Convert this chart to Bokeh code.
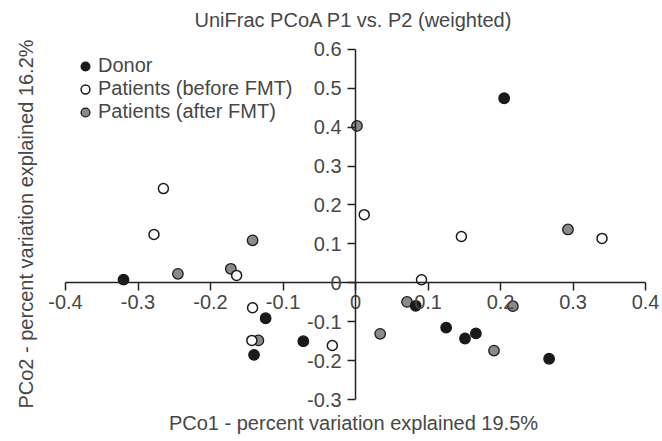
from bokeh.plotting import figure
from bokeh.models import Range1d, FixedTicker, Legend, LegendItem, Title
from bokeh.embed import file_html
from bokeh.resources import INLINE

# ---- data ----
donor_x = [0.205, -0.320, -0.124, -0.072, -0.140, 0.083, 0.125, 0.151, 0.166, 0.267]
donor_y = [0.474, 0.008, -0.091, -0.150, -0.185, -0.059, -0.115, -0.143, -0.130, -0.195]

before_x = [-0.265, -0.278, 0.012, -0.164, -0.142, -0.143, -0.032, 0.146, 0.340, 0.091]
before_y = [0.242, 0.124, 0.175, 0.019, -0.064, -0.148, -0.161, 0.119, 0.114, 0.008]

after_x = [0.002, -0.142, -0.245, -0.172, -0.134, 0.071, 0.034, 0.217, 0.191, 0.293]
after_y = [0.403, 0.109, 0.023, 0.036, -0.148, -0.049, -0.131, -0.060, -0.174, 0.137]

x_ticks = [-0.4, -0.3, -0.2, -0.1, 0, 0.1, 0.2, 0.3, 0.4]
x_tick_labels = ["-0.4", "-0.3", "-0.2", "-0.1", "0", "0.1", "0.2", "0.3", "0.4"]
y_ticks = [-0.3, -0.2, -0.1, 0, 0.1, 0.2, 0.3, 0.4, 0.5, 0.6]
y_tick_labels = ["-0.3", "-0.2", "-0.1", "0", "0.1", "0.2", "0.3", "0.4", "0.5", "0.6"]

title_text = "UniFrac PCoA P1 vs. P2 (weighted)"
x_label = "PCo1 - percent variation explained 19.5%"
y_label = "PCo2 - percent variation explained 16.2%"
series_names = ["Donor", "Patients (before FMT)", "Patients (after FMT)"]

FONT = "Liberation Sans"
TXT = "#474747"
AX = "#222222"
FS = "20px"

# the frame is a little wider than the drawn axes so the end tick labels are not clipped
p = figure(width=662, height=441,
           x_range=Range1d(-0.429, 0.4234), y_range=Range1d(-0.3254, 0.6275),
           output_backend="svg", toolbar_location=None,
           min_border_left=44, min_border_right=0,
           min_border_top=38, min_border_bottom=32)

p.title.text = title_text
p.title.align = "center"
p.title.vertical_align = "top"
p.title.text_font = FONT
p.title.text_font_size = FS
p.title.text_font_style = "normal"
p.title.text_color = TXT
p.title.standoff = 12

p.grid.visible = False
p.outline_line_color = None

axis_bounds = {"x": (x_ticks[0], x_ticks[-1]), "y": (y_ticks[0], y_ticks[-1])}
for ax, ticks, labels, key in ((p.xaxis[0], x_ticks, x_tick_labels, "x"),
                               (p.yaxis[0], y_ticks, y_tick_labels, "y")):
    ax.fixed_location = 0
    ax.bounds = axis_bounds[key]
    ax.ticker = FixedTicker(ticks=ticks)
    ax.major_label_overrides = {t: l for t, l in zip(ticks, labels)}
    ax.minor_tick_line_color = None
    ax.major_tick_in = 0
    ax.major_tick_out = 8
    ax.axis_line_color = AX
    ax.axis_line_width = 1.5
    ax.major_tick_line_color = AX
    ax.major_tick_line_width = 1.5
    ax.major_label_text_font = FONT
    ax.major_label_text_font_size = FS
    ax.major_label_text_color = TXT

p.xaxis.major_label_standoff = 4
p.yaxis.major_label_standoff = 6

p.add_layout(Title(text=y_label, align="center", text_font=FONT, text_font_size=FS,
                   text_font_style="normal", text_color=TXT, standoff=16), "left")
p.add_layout(Title(text=x_label, align="center", text_font=FONT, text_font_size=FS,
                   text_font_style="normal", text_color=TXT, standoff=1), "below")

r_after = p.scatter(after_x, after_y, size=10.5, fill_color="#8a8a8a", line_color="#1a1a1a", line_width=1.3)
r_donor = p.scatter(donor_x, donor_y, size=10.5, fill_color="#1a1a1a", line_color="#1a1a1a", line_width=1.3)
r_before = p.scatter(before_x, before_y, size=10, fill_color="white", line_color="#1a1a1a", line_width=1.5)

legend = Legend(items=[LegendItem(label=series_names[0], renderers=[r_donor]),
                       LegendItem(label=series_names[1], renderers=[r_before]),
                       LegendItem(label=series_names[2], renderers=[r_after])],
                location=(30, 286), padding=0, margin=0, spacing=0,
                glyph_width=22, glyph_height=22, label_height=22, label_standoff=2,
                label_text_font=FONT, label_text_font_size=FS, label_text_color=TXT,
                border_line_color=None, background_fill_alpha=0)
p.add_layout(legend, "center")

open("out.html", "w").write(file_html(p, INLINE))
